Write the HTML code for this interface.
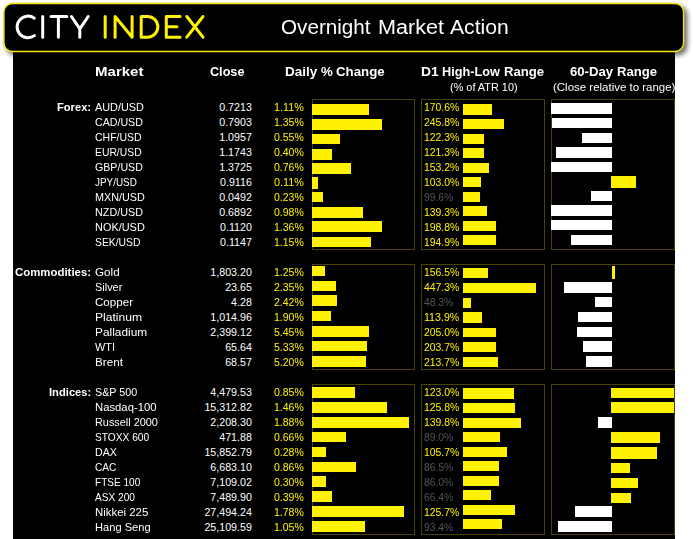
<!DOCTYPE html>
<html><head><meta charset="utf-8"><title>Overnight Market Action</title>
<style>
html,body{margin:0;padding:0;background:#fff;}
body{width:693px;height:539px;position:relative;overflow:hidden;font-family:"Liberation Sans",sans-serif;}
#body{position:absolute;left:13px;top:40px;width:662px;height:499px;background:#000;}
.t{position:absolute;white-space:nowrap;color:#fff;font-size:10.67px;line-height:15px;height:15px;transform-origin:0 0;}
.b{font-weight:bold;}
.h{font-size:12px;font-weight:bold;}
.y{color:#fff200;}
.g{color:#50555a;}
.bar{position:absolute;background:#fef102;}
.wb{position:absolute;background:#fff;}
.box{position:absolute;border:1px solid #4a4300;box-sizing:border-box;}
.title{font-size:19.5px;line-height:24px;height:24px;}
</style></head><body>
<div id="body"></div>
<svg id="hdrs" style="position:absolute;left:0;top:0;overflow:visible;filter:drop-shadow(3px 3px 2.5px rgba(0,0,0,.6))" width="693" height="62" viewBox="0 0 693 62"><rect x="3.9" y="3.5" width="679.7" height="48" rx="8.5" ry="8.5" fill="#000" stroke="#f7ea00" stroke-width="1.4"/></svg>

<svg style="position:absolute;left:0;top:0" width="220" height="52" viewBox="0 0 220 52" fill="none" stroke-width="3.0" stroke-linecap="round" stroke-linejoin="round">
<g stroke="#fff">
<path d="M34.35,18.2 A10.8,10.8 0 1 0 34.35,35.6"/>
<path d="M42.7,16.5 V37.2"/>
<path d="M51,16.5 H66.9 M58.4,16.5 V37.2"/>
<path d="M71.5,16.5 L79.8,28.8 L88.2,16.5 M79.8,28.8 V37.2"/>
</g>
<g stroke="#fff200">
<path d="M105.2,16.5 V37.2"/>
<path d="M115.1,37.2 V16.5 L132.1,37.2 V16.5"/>
<path d="M141.2,16.5 H147.5 A10.35,10.35 0 0 1 147.5,37.2 H141.2 Z"/>
<path d="M180.1,16.5 H166.3 V37.2 H180.1 M166.3,26.85 H177"/>
<path d="M186.8,16.5 L203,37.2 M203,16.5 L186.8,37.2"/>
</g></svg>

<div class="t title" style="left:281.30px;top:14.60px;transform:scaleX(1.0596)">Overnight</div>
<div class="t title" style="left:378.09px;top:14.60px;transform:scaleX(1.1085)">Market</div>
<div class="t title" style="left:450.20px;top:14.60px;transform:scaleX(1.0834)">Action</div>
<div class="t h" style="left:94.90px;top:64.80px;transform:scaleX(1.2536)">Market</div>
<div class="t h" style="left:209.65px;top:64.80px;transform:scaleX(1.0529)">Close</div>
<div class="t h" style="left:285.20px;top:64.80px;transform:scaleX(1.1273)">Daily</div>
<div class="t h" style="left:320.90px;top:64.80px;transform:scaleX(1.1000)">%</div>
<div class="t h" style="left:336.10px;top:64.80px;transform:scaleX(1.1053)">Change</div>
<div class="t h" style="left:421.10px;top:64.80px;transform:scaleX(1.1554)">D1</div>
<div class="t h" style="left:441.70px;top:64.80px;transform:scaleX(1.0576)">High-Low</div>
<div class="t h" style="left:504.30px;top:64.80px;transform:scaleX(1.0919)">Range</div>
<div class="t h" style="left:569.70px;top:64.80px;transform:scaleX(1.0937)">60-Day</div>
<div class="t h" style="left:616.50px;top:64.80px;transform:scaleX(1.0919)">Range</div>
<div class="t" style="left:449.80px;top:80.30px;transform:scaleX(1.0217)">(% of ATR 10)</div>
<div class="t" style="left:552.50px;top:80.30px;transform:scaleX(1.0763)">(Close relative to range)</div>
<div class="t b" style="left:56.90px;top:99.90px;transform:scaleX(1.0463)">Forex:</div>
<div class="t b" style="left:14.90px;top:264.90px;transform:scaleX(1.0710)">Commodities:</div>
<div class="t b" style="left:48.70px;top:384.90px;transform:scaleX(1.0499)">Indices:</div>
<div class="t" style="left:94.90px;top:99.90px;transform:scaleX(1.0194)">AUD/USD</div>
<div class="t" style="left:219.23px;top:99.90px;transform:scaleX(1.0000)">0.7213</div>
<div class="t y" style="left:273.80px;top:99.90px;transform:scaleX(1.0117)">1.11%</div>
<div class="t y" style="left:424.30px;top:99.90px;transform:scaleX(0.9764)">170.6%</div>
<div class="t" style="left:94.90px;top:114.90px;transform:scaleX(0.9987)">CAD/USD</div>
<div class="t" style="left:219.23px;top:114.90px;transform:scaleX(1.0000)">0.7903</div>
<div class="t y" style="left:273.80px;top:114.90px;transform:scaleX(0.9857)">1.35%</div>
<div class="t y" style="left:424.30px;top:114.90px;transform:scaleX(0.9764)">245.8%</div>
<div class="t" style="left:94.90px;top:129.90px;transform:scaleX(0.9840)">CHF/USD</div>
<div class="t" style="left:219.23px;top:129.90px;transform:scaleX(1.0000)">1.0957</div>
<div class="t y" style="left:273.80px;top:129.90px;transform:scaleX(0.9857)">0.55%</div>
<div class="t y" style="left:424.30px;top:129.90px;transform:scaleX(0.9764)">122.3%</div>
<div class="t" style="left:94.90px;top:144.90px;transform:scaleX(0.9718)">EUR/USD</div>
<div class="t" style="left:219.23px;top:144.90px;transform:scaleX(1.0000)">1.1743</div>
<div class="t y" style="left:273.80px;top:144.90px;transform:scaleX(0.9857)">0.40%</div>
<div class="t y" style="left:424.30px;top:144.90px;transform:scaleX(0.9764)">121.3%</div>
<div class="t" style="left:94.90px;top:159.90px;transform:scaleX(0.9986)">GBP/USD</div>
<div class="t" style="left:219.23px;top:159.90px;transform:scaleX(1.0000)">1.3725</div>
<div class="t y" style="left:273.80px;top:159.90px;transform:scaleX(0.9857)">0.76%</div>
<div class="t y" style="left:424.30px;top:159.90px;transform:scaleX(0.9764)">153.2%</div>
<div class="t" style="left:94.90px;top:174.90px;transform:scaleX(0.9292)">JPY/USD</div>
<div class="t" style="left:220.03px;top:174.90px;transform:scaleX(1.0000)">0.9116</div>
<div class="t y" style="left:273.80px;top:174.90px;transform:scaleX(1.0117)">0.11%</div>
<div class="t y" style="left:424.30px;top:174.90px;transform:scaleX(0.9764)">103.0%</div>
<div class="t" style="left:94.90px;top:189.90px;transform:scaleX(1.0133)">MXN/USD</div>
<div class="t" style="left:219.23px;top:189.90px;transform:scaleX(1.0000)">0.0492</div>
<div class="t y" style="left:273.80px;top:189.90px;transform:scaleX(0.9857)">0.23%</div>
<div class="t g" style="left:424.30px;top:189.90px;transform:scaleX(0.9694)">99.6%</div>
<div class="t" style="left:94.90px;top:204.90px;transform:scaleX(1.0133)">NZD/USD</div>
<div class="t" style="left:219.23px;top:204.90px;transform:scaleX(1.0000)">0.6892</div>
<div class="t y" style="left:273.80px;top:204.90px;transform:scaleX(0.9857)">0.98%</div>
<div class="t y" style="left:424.30px;top:204.90px;transform:scaleX(0.9764)">139.3%</div>
<div class="t" style="left:94.90px;top:219.90px;transform:scaleX(1.0255)">NOK/USD</div>
<div class="t" style="left:220.03px;top:219.90px;transform:scaleX(1.0000)">0.1120</div>
<div class="t y" style="left:273.80px;top:219.90px;transform:scaleX(0.9857)">1.36%</div>
<div class="t y" style="left:424.30px;top:219.90px;transform:scaleX(0.9764)">198.8%</div>
<div class="t" style="left:94.90px;top:234.90px;transform:scaleX(0.9727)">SEK/USD</div>
<div class="t" style="left:220.03px;top:234.90px;transform:scaleX(1.0000)">0.1147</div>
<div class="t y" style="left:273.80px;top:234.90px;transform:scaleX(0.9857)">1.15%</div>
<div class="t y" style="left:424.30px;top:234.90px;transform:scaleX(0.9764)">194.9%</div>
<div class="t" style="left:94.90px;top:264.90px;transform:scaleX(1.0960)">Gold</div>
<div class="t" style="left:210.35px;top:264.90px;transform:scaleX(1.0000)">1,803.20</div>
<div class="t y" style="left:273.80px;top:264.90px;transform:scaleX(0.9857)">1.25%</div>
<div class="t y" style="left:424.30px;top:264.90px;transform:scaleX(0.9764)">156.5%</div>
<div class="t" style="left:94.90px;top:279.90px;transform:scaleX(1.0241)">Silver</div>
<div class="t" style="left:225.16px;top:279.90px;transform:scaleX(1.0000)">23.65</div>
<div class="t y" style="left:273.80px;top:279.90px;transform:scaleX(0.9857)">2.35%</div>
<div class="t y" style="left:424.30px;top:279.90px;transform:scaleX(0.9764)">447.3%</div>
<div class="t" style="left:94.90px;top:294.90px;transform:scaleX(1.0875)">Copper</div>
<div class="t" style="left:231.09px;top:294.90px;transform:scaleX(1.0000)">4.28</div>
<div class="t y" style="left:273.80px;top:294.90px;transform:scaleX(0.9857)">2.42%</div>
<div class="t g" style="left:424.30px;top:294.90px;transform:scaleX(0.9694)">48.3%</div>
<div class="t" style="left:94.90px;top:309.90px;transform:scaleX(1.1363)">Platinum</div>
<div class="t" style="left:210.35px;top:309.90px;transform:scaleX(1.0000)">1,014.96</div>
<div class="t y" style="left:273.80px;top:309.90px;transform:scaleX(0.9857)">1.90%</div>
<div class="t y" style="left:424.30px;top:309.90px;transform:scaleX(0.9979)">113.9%</div>
<div class="t" style="left:94.90px;top:324.90px;transform:scaleX(1.1137)">Palladium</div>
<div class="t" style="left:210.35px;top:324.90px;transform:scaleX(1.0000)">2,399.12</div>
<div class="t y" style="left:273.80px;top:324.90px;transform:scaleX(0.9857)">5.45%</div>
<div class="t y" style="left:424.30px;top:324.90px;transform:scaleX(0.9764)">205.0%</div>
<div class="t" style="left:94.90px;top:339.90px;transform:scaleX(1.0233)">WTI</div>
<div class="t" style="left:225.16px;top:339.90px;transform:scaleX(1.0000)">65.64</div>
<div class="t y" style="left:273.80px;top:339.90px;transform:scaleX(0.9857)">5.33%</div>
<div class="t y" style="left:424.30px;top:339.90px;transform:scaleX(0.9764)">203.7%</div>
<div class="t" style="left:94.90px;top:354.90px;transform:scaleX(1.0976)">Brent</div>
<div class="t" style="left:225.16px;top:354.90px;transform:scaleX(1.0000)">68.57</div>
<div class="t y" style="left:273.80px;top:354.90px;transform:scaleX(0.9857)">5.20%</div>
<div class="t y" style="left:424.30px;top:354.90px;transform:scaleX(0.9764)">213.7%</div>
<div class="t" style="left:94.90px;top:384.90px;transform:scaleX(1.0063)">S&amp;P 500</div>
<div class="t" style="left:210.35px;top:384.90px;transform:scaleX(1.0000)">4,479.53</div>
<div class="t y" style="left:273.80px;top:384.90px;transform:scaleX(0.9857)">0.85%</div>
<div class="t y" style="left:424.30px;top:384.90px;transform:scaleX(0.9764)">123.0%</div>
<div class="t" style="left:94.90px;top:399.90px;transform:scaleX(1.0597)">Nasdaq-100</div>
<div class="t" style="left:204.42px;top:399.90px;transform:scaleX(1.0000)">15,312.82</div>
<div class="t y" style="left:273.80px;top:399.90px;transform:scaleX(0.9857)">1.46%</div>
<div class="t y" style="left:424.30px;top:399.90px;transform:scaleX(0.9764)">125.8%</div>
<div class="t" style="left:94.90px;top:414.90px;transform:scaleX(1.0214)">Russell 2000</div>
<div class="t" style="left:210.35px;top:414.90px;transform:scaleX(1.0000)">2,208.30</div>
<div class="t y" style="left:273.80px;top:414.90px;transform:scaleX(0.9857)">1.88%</div>
<div class="t y" style="left:424.30px;top:414.90px;transform:scaleX(0.9764)">139.8%</div>
<div class="t" style="left:94.90px;top:429.90px;transform:scaleX(0.9552)">STOXX 600</div>
<div class="t" style="left:219.23px;top:429.90px;transform:scaleX(1.0000)">471.88</div>
<div class="t y" style="left:273.80px;top:429.90px;transform:scaleX(0.9857)">0.66%</div>
<div class="t g" style="left:424.30px;top:429.90px;transform:scaleX(0.9694)">89.0%</div>
<div class="t" style="left:94.90px;top:444.90px;transform:scaleX(0.9953)">DAX</div>
<div class="t" style="left:204.42px;top:444.90px;transform:scaleX(1.0000)">15,852.79</div>
<div class="t y" style="left:273.80px;top:444.90px;transform:scaleX(0.9857)">0.28%</div>
<div class="t y" style="left:424.30px;top:444.90px;transform:scaleX(0.9764)">105.7%</div>
<div class="t" style="left:94.90px;top:459.90px;transform:scaleX(0.9516)">CAC</div>
<div class="t" style="left:210.35px;top:459.90px;transform:scaleX(1.0000)">6,683.10</div>
<div class="t y" style="left:273.80px;top:459.90px;transform:scaleX(0.9857)">0.86%</div>
<div class="t g" style="left:424.30px;top:459.90px;transform:scaleX(0.9694)">86.5%</div>
<div class="t" style="left:94.90px;top:474.90px;transform:scaleX(0.9428)">FTSE 100</div>
<div class="t" style="left:210.35px;top:474.90px;transform:scaleX(1.0000)">7,109.02</div>
<div class="t y" style="left:273.80px;top:474.90px;transform:scaleX(0.9857)">0.30%</div>
<div class="t g" style="left:424.30px;top:474.90px;transform:scaleX(0.9694)">86.0%</div>
<div class="t" style="left:94.90px;top:489.90px;transform:scaleX(0.9493)">ASX 200</div>
<div class="t" style="left:210.35px;top:489.90px;transform:scaleX(1.0000)">7,489.90</div>
<div class="t y" style="left:273.80px;top:489.90px;transform:scaleX(0.9857)">0.39%</div>
<div class="t g" style="left:424.30px;top:489.90px;transform:scaleX(0.9694)">66.4%</div>
<div class="t" style="left:94.90px;top:504.90px;transform:scaleX(1.0697)">Nikkei 225</div>
<div class="t" style="left:204.42px;top:504.90px;transform:scaleX(1.0000)">27,494.24</div>
<div class="t y" style="left:273.80px;top:504.90px;transform:scaleX(0.9857)">1.78%</div>
<div class="t y" style="left:424.30px;top:504.90px;transform:scaleX(0.9764)">125.7%</div>
<div class="t" style="left:94.90px;top:519.90px;transform:scaleX(1.0431)">Hang Seng</div>
<div class="t" style="left:204.42px;top:519.90px;transform:scaleX(1.0000)">25,109.59</div>
<div class="t y" style="left:273.80px;top:519.90px;transform:scaleX(0.9857)">1.05%</div>
<div class="t g" style="left:424.30px;top:519.90px;transform:scaleX(0.9694)">93.4%</div>
<div class="box" style="left:312px;top:99px;width:103px;height:151px"></div>
<div class="box" style="left:421px;top:99px;width:124px;height:151px"></div>
<div class="box" style="left:551px;top:99px;width:124px;height:151px"></div>
<div class="box" style="left:312px;top:264px;width:103px;height:106px"></div>
<div class="box" style="left:421px;top:264px;width:124px;height:106px"></div>
<div class="box" style="left:551px;top:264px;width:124px;height:106px"></div>
<div class="box" style="left:312px;top:384px;width:103px;height:151px"></div>
<div class="box" style="left:421px;top:384px;width:124px;height:151px"></div>
<div class="box" style="left:551px;top:384px;width:124px;height:151px"></div>
<div class="bar" style="left:312px;top:104.00px;width:57.0px;height:11px"></div>
<div class="bar" style="left:312px;top:118.90px;width:70.0px;height:10.8px"></div>
<div class="bar" style="left:312px;top:133.90px;width:28.0px;height:10.4px"></div>
<div class="bar" style="left:312px;top:148.60px;width:20.0px;height:11.0px"></div>
<div class="bar" style="left:312px;top:163.30px;width:39.0px;height:10.8px"></div>
<div class="bar" style="left:312px;top:177.10px;width:5.6px;height:11.5px"></div>
<div class="bar" style="left:312px;top:192.40px;width:11.3px;height:10.0px"></div>
<div class="bar" style="left:312px;top:207.10px;width:50.5px;height:10.8px"></div>
<div class="bar" style="left:312px;top:221.40px;width:70.0px;height:11.0px"></div>
<div class="bar" style="left:312px;top:236.70px;width:59.0px;height:10.2px"></div>
<div class="bar" style="left:312px;top:266.00px;width:12.7px;height:10.3px"></div>
<div class="bar" style="left:312px;top:280.50px;width:24.0px;height:10.3px"></div>
<div class="bar" style="left:312px;top:295.40px;width:25.1px;height:10.3px"></div>
<div class="bar" style="left:312px;top:311.00px;width:19.0px;height:10.3px"></div>
<div class="bar" style="left:312px;top:326.30px;width:57.0px;height:10.3px"></div>
<div class="bar" style="left:312px;top:340.70px;width:55.0px;height:10.3px"></div>
<div class="bar" style="left:312px;top:356.30px;width:54.0px;height:10.3px"></div>
<div class="bar" style="left:312px;top:387.10px;width:43.2px;height:11.1px"></div>
<div class="bar" style="left:312px;top:402.20px;width:74.7px;height:10.8px"></div>
<div class="bar" style="left:312px;top:417.40px;width:97.0px;height:10.7px"></div>
<div class="bar" style="left:312px;top:431.70px;width:34.0px;height:10.7px"></div>
<div class="bar" style="left:312px;top:446.70px;width:13.7px;height:10.4px"></div>
<div class="bar" style="left:312px;top:461.90px;width:44.0px;height:10.2px"></div>
<div class="bar" style="left:312px;top:476.10px;width:14.4px;height:11.0px"></div>
<div class="bar" style="left:312px;top:490.80px;width:19.7px;height:11.2px"></div>
<div class="bar" style="left:312px;top:506.00px;width:91.7px;height:11.4px"></div>
<div class="bar" style="left:312px;top:520.60px;width:53.4px;height:11.4px"></div>
<div class="bar" style="left:463px;top:104.00px;width:28.9px;height:10.8px"></div>
<div class="bar" style="left:463px;top:118.90px;width:41.0px;height:10.5px"></div>
<div class="bar" style="left:463px;top:134.00px;width:20.7px;height:10px"></div>
<div class="bar" style="left:463px;top:148.10px;width:20.7px;height:9.9px"></div>
<div class="bar" style="left:463px;top:162.90px;width:25.7px;height:10.4px"></div>
<div class="bar" style="left:463px;top:176.70px;width:17.9px;height:10.4px"></div>
<div class="bar" style="left:463px;top:191.90px;width:16.7px;height:10.0px"></div>
<div class="bar" style="left:463px;top:206.10px;width:23.6px;height:9.9px"></div>
<div class="bar" style="left:463px;top:221.00px;width:32.9px;height:10px"></div>
<div class="bar" style="left:463px;top:235.00px;width:32.9px;height:10.1px"></div>
<div class="bar" style="left:463px;top:268.00px;width:25.2px;height:10px"></div>
<div class="bar" style="left:463px;top:283.30px;width:72.9px;height:9.8px"></div>
<div class="bar" style="left:463px;top:297.70px;width:8.1px;height:10.0px"></div>
<div class="bar" style="left:463px;top:312.00px;width:19.3px;height:10.6px"></div>
<div class="bar" style="left:463px;top:327.50px;width:33.4px;height:9.9px"></div>
<div class="bar" style="left:463px;top:341.90px;width:33.4px;height:10.6px"></div>
<div class="bar" style="left:463px;top:357.00px;width:35.4px;height:9.8px"></div>
<div class="bar" style="left:463px;top:388.10px;width:51.0px;height:10.6px"></div>
<div class="bar" style="left:463px;top:403.00px;width:52.0px;height:10.2px"></div>
<div class="bar" style="left:463px;top:418.10px;width:58.1px;height:9.9px"></div>
<div class="bar" style="left:463px;top:432.20px;width:36.7px;height:9.6px"></div>
<div class="bar" style="left:463px;top:447.20px;width:44.0px;height:9.5px"></div>
<div class="bar" style="left:463px;top:461.40px;width:35.6px;height:9.7px"></div>
<div class="bar" style="left:463px;top:476.10px;width:35.6px;height:10.1px"></div>
<div class="bar" style="left:463px;top:490.20px;width:27.6px;height:9.8px"></div>
<div class="bar" style="left:463px;top:505.20px;width:52.0px;height:10.1px"></div>
<div class="bar" style="left:463px;top:519.40px;width:38.9px;height:9.7px"></div>
<div class="wb" style="left:551.1px;top:103.10px;width:61.1px;height:10.6px"></div>
<div class="wb" style="left:552.1px;top:117.80px;width:60.1px;height:10.3px"></div>
<div class="wb" style="left:582px;top:133.00px;width:30.2px;height:10.1px"></div>
<div class="wb" style="left:555.8px;top:147.10px;width:56.4px;height:10.5px"></div>
<div class="wb" style="left:551.1px;top:162.10px;width:61.1px;height:10px"></div>
<div class="bar" style="left:611px;top:176.00px;width:25.1px;height:11.9px"></div>
<div class="wb" style="left:590.9px;top:191.00px;width:21.3px;height:9.9px"></div>
<div class="wb" style="left:551.1px;top:205.40px;width:61.1px;height:10.5px"></div>
<div class="wb" style="left:551.1px;top:219.90px;width:61.1px;height:10.2px"></div>
<div class="wb" style="left:570.9px;top:235.00px;width:41.3px;height:9.8px"></div>
<div class="bar" style="left:611.5px;top:266.10px;width:3.9px;height:12.8px"></div>
<div class="wb" style="left:563.9px;top:282.10px;width:48.3px;height:10.7px"></div>
<div class="wb" style="left:595.1px;top:297.00px;width:17.1px;height:10px"></div>
<div class="wb" style="left:578px;top:312.20px;width:34.2px;height:9.7px"></div>
<div class="wb" style="left:577.1px;top:326.90px;width:35.1px;height:9.9px"></div>
<div class="wb" style="left:582.9px;top:341.40px;width:29.3px;height:10.3px"></div>
<div class="wb" style="left:585.8px;top:356.30px;width:26.4px;height:10.5px"></div>
<div class="bar" style="left:610.9px;top:387.90px;width:63.3px;height:10.2px"></div>
<div class="bar" style="left:610.9px;top:401.90px;width:63.3px;height:11.3px"></div>
<div class="wb" style="left:597.9px;top:416.80px;width:14.3px;height:11.1px"></div>
<div class="bar" style="left:610.9px;top:431.90px;width:49.1px;height:11.6px"></div>
<div class="bar" style="left:610.9px;top:447.30px;width:45.8px;height:11.4px"></div>
<div class="bar" style="left:610.9px;top:462.70px;width:19.0px;height:10.1px"></div>
<div class="bar" style="left:610.9px;top:477.80px;width:27.0px;height:10.1px"></div>
<div class="bar" style="left:610.9px;top:492.80px;width:20.0px;height:10.1px"></div>
<div class="wb" style="left:574.9px;top:506.20px;width:37.3px;height:10.4px"></div>
<div class="wb" style="left:557.7px;top:521.20px;width:54.5px;height:10.6px"></div>
</body></html>
